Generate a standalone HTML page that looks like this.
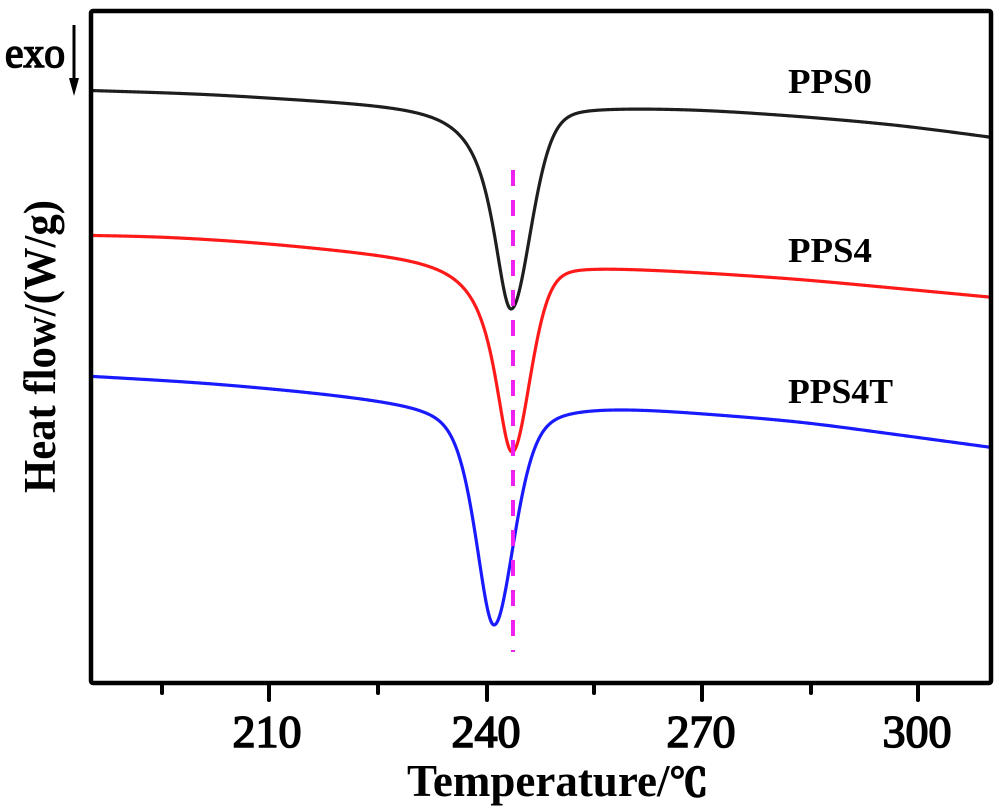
<!DOCTYPE html>
<html>
<head>
<meta charset="utf-8">
<style>
html,body{margin:0;padding:0;background:#fff;}
svg{display:block;}
text{font-family:"Liberation Serif","DejaVu Serif",serif;font-weight:bold;fill:#000;}
text.n{font-weight:normal;}
</style>
</head>
<body>
<svg id="chart" width="1000" height="810" viewBox="0 0 1000 810" xmlns="http://www.w3.org/2000/svg">
  <rect width="1000" height="810" fill="#fff"/>
  <defs>
    <clipPath id="cp"><rect x="93" y="13" width="896" height="668"/></clipPath>
  </defs>
  <g clip-path="url(#cp)" fill="none" stroke-width="3.2" stroke-linejoin="round" stroke-linecap="round">
    <path id="pBlack" stroke="#1e1e1e"/>
    <path id="pRed" stroke="#ff1a1a"/>
    <path id="pBlue" stroke="#1a1aff"/>
  </g>
  <!-- magenta dashed line -->
  <line x1="513" y1="170" x2="513" y2="652" stroke="#f020f0" stroke-width="4" stroke-dasharray="16 14"/>
  <!-- frame -->
  <rect x="91" y="11" width="900" height="672" fill="none" stroke="#000" stroke-width="4.5" rx="2"/>
  <!-- ticks -->
  <g stroke="#000" stroke-width="4" stroke-linecap="round">
    <line x1="162" y1="684" x2="162" y2="693"/>
    <line x1="269" y1="684" x2="269" y2="700"/>
    <line x1="378" y1="684" x2="378" y2="693"/>
    <line x1="487" y1="684" x2="487" y2="700"/>
    <line x1="594" y1="684" x2="594" y2="693"/>
    <line x1="702" y1="684" x2="702" y2="700"/>
    <line x1="811" y1="684" x2="811" y2="693"/>
    <line x1="918" y1="684" x2="918" y2="700"/>
  </g>
  <g font-size="46" text-anchor="middle">
    <text class="n" x="267" y="747" stroke="#000" stroke-width="1.6">210</text>
    <text class="n" x="486" y="747" stroke="#000" stroke-width="1.6">240</text>
    <text class="n" x="701" y="747" stroke="#000" stroke-width="1.6">270</text>
    <text class="n" x="917" y="747" stroke="#000" stroke-width="1.6">300</text>
  </g>
  <text x="407" y="796" font-size="45">Temperature/<tspan style="font-family:'Noto Serif CJK SC','Noto Sans CJK SC',serif;font-weight:bold" font-size="38" stroke="#000" stroke-width="1.8">℃</tspan></text>
  <text transform="translate(55,493) rotate(-90)" font-size="45" textLength="293" lengthAdjust="spacingAndGlyphs">Heat flow/(W/g)</text>
  <!-- exo arrow -->
  <text class="n" x="5" y="67" font-size="42" textLength="60" lengthAdjust="spacingAndGlyphs" stroke="#000" stroke-width="1.6">exo</text>
  <line x1="74" y1="25" x2="74" y2="82" stroke="#000" stroke-width="3"/>
  <polygon points="69,78 79,78 74,96" fill="#000"/>
  <!-- series labels -->
  <g font-size="35">
    <text x="788" y="93" textLength="84" lengthAdjust="spacingAndGlyphs">PPS0</text>
    <text x="788" y="262" textLength="84" lengthAdjust="spacingAndGlyphs">PPS4</text>
    <text x="788" y="403" textLength="105" lengthAdjust="spacingAndGlyphs">PPS4T</text>
  </g>
</svg>
<script>
function lin(pts,x){
  if(x<=pts[0][0]){var a=pts[0],b=pts[1];return a[1]+(b[1]-a[1])*(x-a[0])/(b[0]-a[0]);}
  for(var i=0;i<pts.length-1;i++){
    var a=pts[i],b=pts[i+1];
    if(x<=b[0])return a[1]+(b[1]-a[1])*(x-a[0])/(b[0]-a[0]);
  }
  var a=pts[pts.length-2],b=pts[pts.length-1];
  return a[1]+(b[1]-a[1])*(x-a[0])/(b[0]-a[0]);
}
function smoothBase(pts,x0,x1){
  var arr=[],n=x1-x0+1,i,k,W=35;
  for(i=-W*2;i<n+W*2;i++)arr.push(lin(pts,x0+i));
  for(var pass=0;pass<2;pass++){
    var out=[];
    for(i=0;i<arr.length;i++){
      var s=0,c=0;
      for(k=-W;k<=W;k++){var j=i+k;if(j<0)j=0;if(j>=arr.length)j=arr.length-1;s+=arr[j];c++;}
      out.push(s/c);
    }
    arr=out;
  }
  return arr.slice(W*2,W*2+n);
}
function curve(base,xp,ymin,L,R){
  var x0=88,x1=995;
  var B=smoothBase(base,x0,x1);
  var bp=B[Math.round(xp)-x0];
  var depth=ymin-bp;
  var d="";
  for(var x=x0;x<=x1;x+=1){
    var dx=x-xp,p=dx<0?L:R;
    var Lz=1/(1+(dx/p.w)*(dx/p.w));
    var G=Math.exp(-dx*dx/(2*p.s*p.s));
    var g=p.eta*Lz+(1-p.eta)*G;
    var y=B[x-x0]+depth*g;
    d+=(x===x0?"M":" L")+x+","+y.toFixed(2);
  }
  return d;
}
document.getElementById("pBlack").setAttribute("d",curve(
  [[92,90],[200,93],[300,98],[400,102],[511,105],[600,106],[700,109],[800,116],[900,125],[990,137]],
  511,309,{eta:1,w:22,s:20},{eta:0.3,w:23,s:20.5}));
document.getElementById("pRed").setAttribute("d",curve(
  [[92,235],[160,236],[250,241],[350,249],[430,255],[512,262],[600,266],[700,272],[800,279],[990,297]],
  512,452,{eta:1,w:21,s:20},{eta:0.3,w:21,s:18.6}));
document.getElementById("pBlue").setAttribute("d",curve(
  [[92,376],[200,382],[300,390],[400,399],[494,404],[580,404],[640,407],[800,421],[990,447]],
  494,625,{eta:0.6,w:22,s:19},{eta:0.45,w:25,s:20.5}));
</script>
</body>
</html>
